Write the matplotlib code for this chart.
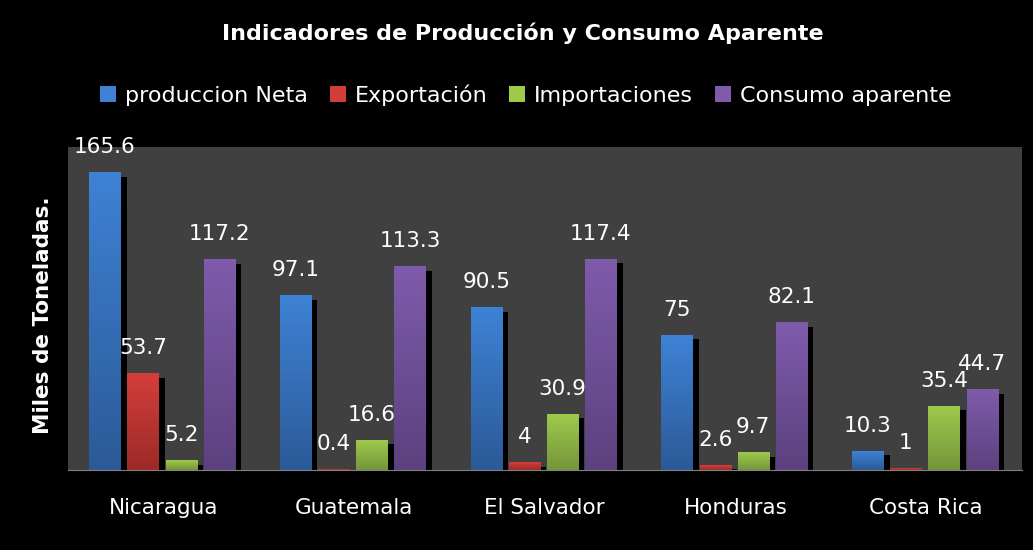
import numpy as np
import matplotlib.pyplot as plt
from matplotlib.patches import Patch
from matplotlib.colors import to_rgb

plt.rcParams['font.family'] = ['DejaVu Sans']

paises = ['Nicaragua', 'Guatemala', 'El Salvador', 'Honduras', 'Costa Rica']
series = ['produccion Neta', 'Exportación', 'Importaciones', 'Consumo aparente']
produccion = [165.6, 97.1, 90.5, 75, 10.3]
exportacion = [53.7, 0.4, 4, 2.6, 1]
importacion = [5.2, 16.6, 30.9, 9.7, 35.4]
consumo = [117.2, 113.3, 117.4, 82.1, 44.7]
valores = [produccion, exportacion, importacion, consumo]

# top / bottom colours of each bar gradient
colores = [('#3e82d4', '#2c5a98'),
           ('#d43e3a', '#9c2a28'),
           ('#9ec94c', '#74963a'),
           ('#7f5bab', '#5c417f')]

fig = plt.figure(figsize=(10.33, 5.5), dpi=100, facecolor='black')
ax = fig.add_axes([0.0658, 0.1455, 0.9232, 0.5872])
ax.set_facecolor('#404040')

x = np.arange(len(paises))
ancho = 0.163
paso = 0.2
dx = 0.033
dy = 2.2

for i, (vals, (c_top, c_bot)) in enumerate(zip(valores, colores)):
    pos = x + (i - 1.5) * paso - 0.007
    grad = np.linspace(to_rgb(c_top), to_rgb(c_bot), 64).reshape(64, 1, 3)
    for p, v in zip(pos, vals):
        # shadow
        ax.bar(p + dx, max(v - dy, 0), width=ancho, color='black', zorder=2)
        ax.imshow(grad, extent=(p - ancho / 2, p + ancho / 2, 0, v),
                  aspect='auto', zorder=3, interpolation='bilinear')
        ax.annotate(f'{v:g}', (p, v), xytext=(0, 14), textcoords='offset points',
                    ha='center', va='baseline', color='white', fontsize=15.5, zorder=5,
                    annotation_clip=False)

ax.set_xlim(-0.5, len(paises) - 0.5)
ax.set_ylim(0, 180)
ax.set_yticks([])
ax.set_xticks(x)
ax.set_xticklabels(paises, color='white', fontsize=15.5)
ax.tick_params(axis='x', length=0, pad=20)
for s in ['top', 'left', 'right']:
    ax.spines[s].set_visible(False)
ax.spines['bottom'].set_color('#808080')
ax.spines['bottom'].set_zorder(6)

ax.set_ylabel('Miles de Toneladas.', color='white', fontsize=15.5, fontweight='bold')
ax.yaxis.set_label_coords(-0.016, 0.48)

fig.text(0.506, 0.94, 'Indicadores de Producción y Consumo Aparente', color='white',
         fontsize=16, fontweight='bold', ha='center', va='center')

handles = [Patch(facecolor=c[0]) for c in colores]
leg = fig.legend(handles, series, loc='center', bbox_to_anchor=(0.509, 0.827), ncol=4,
                 frameon=False, fontsize=16, labelcolor='white', handlelength=0.7,
                 handleheight=0.7, handletextpad=0.4, columnspacing=1.0)

fig.savefig('out.png', dpi=100, facecolor='black')
